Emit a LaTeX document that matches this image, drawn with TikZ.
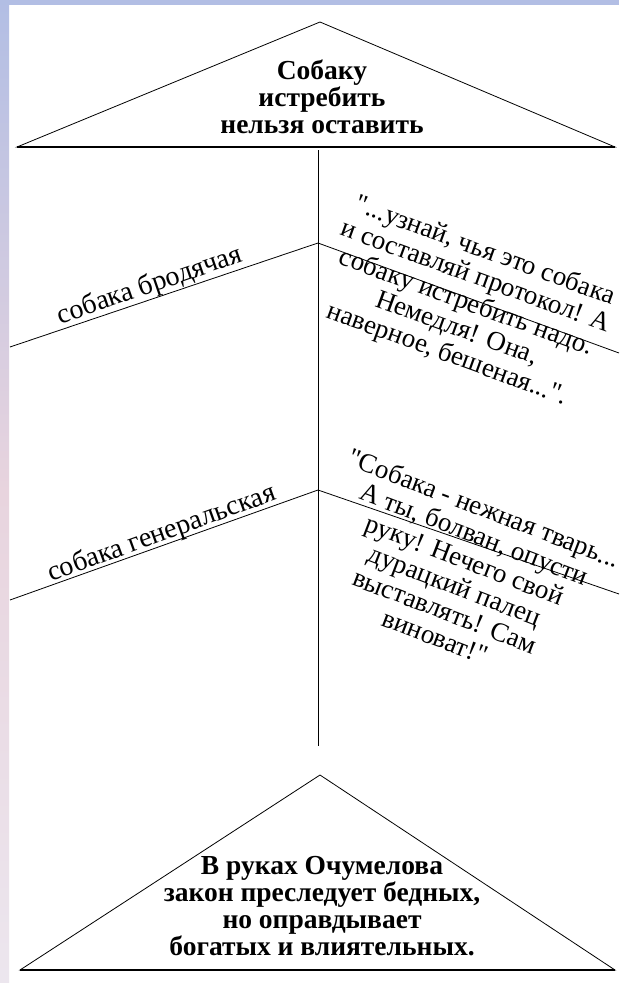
\documentclass[tikz,border=0pt]{standalone}
\usepackage{fontspec}
\setmainfont{Liberation Serif}[Ligatures=TeXOff]
\definecolor{slideblue}{RGB}{178,190,228}
\definecolor{slidepink}{RGB}{232,212,222}
\definecolor{slidegrey}{RGB}{236,230,238}

\begin{document}
\begin{tikzpicture}[
    x=1pt, y=-1pt,
    line/.style={draw=black, line width=0.8pt},
    thesis/.style={
        align=center,
        font=\fontsize{27.5}{27}\selectfont\bfseries
    },
    quote/.style={
        align=center,
        font=\fontsize{27}{27.5}\selectfont
    },
    branchlabel/.style={
        font=\fontsize{28}{28}\selectfont
    }
]

% slide frame
\useasboundingbox (0,0) rectangle (619,983);
\fill[white] (0,0) rectangle (619,983);
\shade[top color=slideblue, bottom color=slidegrey, middle color=slidepink] (0,0) rectangle (9,983);
\fill[slideblue] (0,0) rectangle (619,5);

% skeleton points
\coordinate (tapex) at (320,22);
\coordinate (tleft) at (17,147);
\coordinate (tright) at (615,147);
\coordinate (spinetop) at (318,150);
\coordinate (spinebot) at (318,746);
\coordinate (joinA) at (318,243);
\coordinate (joinB) at (318,490);
\coordinate (leftA) at (10,347);
\coordinate (rightA) at (619,353);
\coordinate (leftB) at (10,600);
\coordinate (rightB) at (619,594);
\coordinate (bapex) at (320,775);
\coordinate (bleft) at (20,970);
\coordinate (bright) at (615,970);

% triangles and spine
\draw[line] (tleft) -- (tapex) -- (tright) -- cycle;
\draw[line, line width=1.3pt] (tleft) -- (tright);
\draw[line] (spinetop) -- (spinebot);
\draw[line] (leftA) -- (joinA) -- (rightA);
\draw[line] (leftB) -- (joinB) -- (rightB);
\draw[line] (bleft) -- (bapex) -- (bright) -- cycle;
\draw[line, line width=1.3pt] (bleft) -- (bright);

% texts
\node[thesis] (verdict) at (322,97) {Собаку\\истребить\\нельзя оставить};
\node[thesis] (moral) at (322,906) {В руках Очумелова\\закон преследует бедных,\\но оправдывает\\богатых и влиятельных.};

\node[branchlabel, rotate=19] (stray) at (150,286) {собака бродячая};
\node[branchlabel, rotate=20] (general) at (162,534) {собака генеральская};

\node[quote, rotate=-20] (order) at (466,303) {"...узнай, чья это собака\\и составляй протокол! А\\собаку истребить надо.\\Немедля! Она,\\наверное, бешеная...".};
\node[quote, rotate=-21] (excuse) at (460,572) {"Собака - нежная тварь...\\А ты, болван, опусти\\руку! Нечего свой\\дурацкий палец\\выставлять! Сам\\виноват!"};

\end{tikzpicture}
\end{document}
